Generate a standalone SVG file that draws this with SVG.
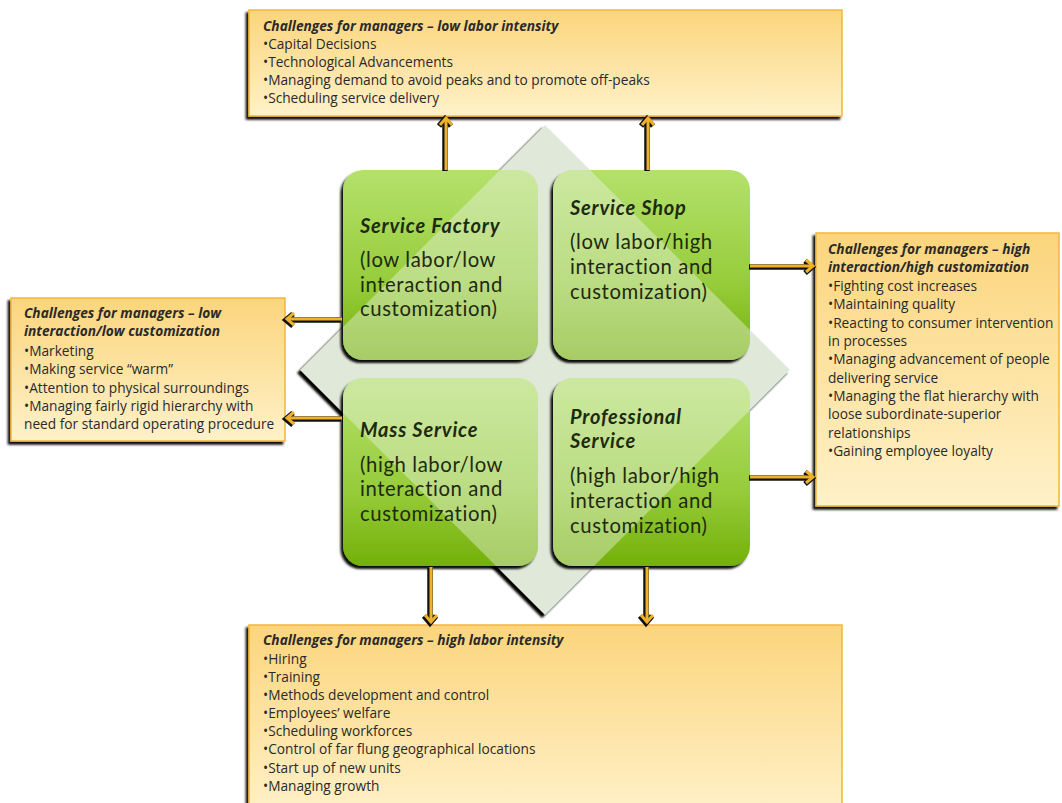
<svg xmlns="http://www.w3.org/2000/svg" width="1062" height="803" viewBox="0 0 1062 803">
  <style>
    .note { fill: url(#noteFill); stroke: #f2b63c; stroke-width: 1.5; filter: url(#dropShadow); }
    .note-text { font-family: "Open Sans", "Liberation Sans", sans-serif; font-size: 13.7px; fill: #2a2a2a; }
    .note-title { font-weight: bold; font-style: italic; }
    .quad { fill: url(#greenFill); filter: url(#dropShadow); }
    .quad-title { font-family: Lato, "Open Sans", sans-serif; font-size: 20px; font-weight: bold; font-style: italic; letter-spacing: 0.8px; fill: #1d2a10; }
    .quad-text { font-family: Lato, "Open Sans", sans-serif; font-size: 20.3px; letter-spacing: 0.6px; fill: #1d2a10; }
    .veil { fill: #eef4e6; fill-opacity: 0.42; }
    .link-under { fill: none; stroke: #111; stroke-width: 5.5; marker-end: url(#headDark); }
    .link { fill: none; stroke: #eeb12a; stroke-width: 3; marker-end: url(#headGold); }
  </style>
  <defs>
    <linearGradient id="noteFill" x1="0" y1="0" x2="0" y2="1">
      <stop offset="0" stop-color="#fbd57c"/>
      <stop offset="1" stop-color="#fff1c9"/>
    </linearGradient>
    <linearGradient id="greenFill" x1="0" y1="0" x2="0" y2="1">
      <stop offset="0" stop-color="#b4e16c"/>
      <stop offset="0.6" stop-color="#96cc3a"/>
      <stop offset="1" stop-color="#74b00a"/>
    </linearGradient>
    <filter id="dropShadow" x="-10%" y="-10%" width="120%" height="120%">
      <feDropShadow dx="-2.5" dy="3" stdDeviation="1" flood-color="#000" flood-opacity="0.95"/>
    </filter>
    <filter id="soft" x="-10%" y="-10%" width="120%" height="120%">
      <feGaussianBlur stdDeviation="1"/>
    </filter>
    <polygon id="diamondShape" points="545,125 790,370 545,615 300,370"/>
    <clipPath id="clipFactory"><rect x="343" y="170" width="195" height="190" rx="20"/></clipPath>
    <clipPath id="clipShop"><rect x="553" y="170" width="197" height="190" rx="20"/></clipPath>
    <clipPath id="clipMass"><rect x="343" y="378" width="195" height="188" rx="20"/></clipPath>
    <clipPath id="clipPro"><rect x="553" y="378" width="197" height="188" rx="20"/></clipPath>
    <marker id="headGold" markerUnits="userSpaceOnUse" markerWidth="20" markerHeight="20" viewBox="-10 -10 20 20" refX="0" refY="0" orient="auto">
      <path d="M-7,-6 L0,0 L-7,6" fill="none" stroke="#eeb12a" stroke-width="3" stroke-linejoin="miter"/>
    </marker>
    <marker id="headDark" markerUnits="userSpaceOnUse" markerWidth="20" markerHeight="20" viewBox="-10 -10 20 20" refX="0" refY="0" orient="auto">
      <path d="M-7,-6 L0,0 L-7,6" fill="none" stroke="#111" stroke-width="5.5" stroke-linejoin="miter"/>
    </marker>
  </defs>

  <rect width="1062" height="803" fill="#ffffff"/>

  <!-- central diamond behind the quadrants, with its dark edge -->
  <g id="diamond">
    <polygon points="542,128 787,373 542,618 297,373" fill="#000" filter="url(#soft)"/>
    <use href="#diamondShape" fill="#e0e9d9"/>
  </g>

  <!-- four service quadrants; the diamond shows through each as a light veil -->
  <g id="service-factory">
    <rect class="quad" x="343" y="170" width="195" height="190" rx="20"/>
    <use href="#diamondShape" class="veil" clip-path="url(#clipFactory)"/>
    <text class="quad-title" x="360" y="233">Service Factory</text>
    <text class="quad-text" x="360" y="267">(low labor/low</text>
    <text class="quad-text" x="360" y="292">interaction and</text>
    <text class="quad-text" x="360" y="316">customization)</text>
  </g>
  <g id="service-shop">
    <rect class="quad" x="553" y="170" width="197" height="190" rx="20"/>
    <use href="#diamondShape" class="veil" clip-path="url(#clipShop)"/>
    <text class="quad-title" x="570" y="215">Service Shop</text>
    <text class="quad-text" x="570" y="249">(low labor/high</text>
    <text class="quad-text" x="570" y="274">interaction and</text>
    <text class="quad-text" x="570" y="299">customization)</text>
  </g>
  <g id="mass-service">
    <rect class="quad" x="343" y="378" width="195" height="188" rx="20"/>
    <use href="#diamondShape" class="veil" clip-path="url(#clipMass)"/>
    <text class="quad-title" x="360" y="437">Mass Service</text>
    <text class="quad-text" x="360" y="472">(high labor/low</text>
    <text class="quad-text" x="360" y="496">interaction and</text>
    <text class="quad-text" x="360" y="521">customization)</text>
  </g>
  <g id="professional-service">
    <rect class="quad" x="553" y="378" width="197" height="188" rx="20"/>
    <use href="#diamondShape" class="veil" clip-path="url(#clipPro)"/>
    <text class="quad-title" x="570" y="424">Professional</text>
    <text class="quad-title" x="570" y="448">Service</text>
    <text class="quad-text" x="570" y="483">(high labor/high</text>
    <text class="quad-text" x="570" y="508">interaction and</text>
    <text class="quad-text" x="570" y="533">customization)</text>
  </g>

  <!-- challenge notes -->
  <g id="low-labor">
    <rect class="note" x="249" y="10" width="593" height="106"/>
    <text class="note-text">
      <tspan class="note-title" x="263" y="31">Challenges for managers – low labor intensity</tspan>
      <tspan x="263" y="49">•Capital Decisions</tspan>
      <tspan x="263" y="67">•Technological Advancements</tspan>
      <tspan x="263" y="85">•Managing demand to avoid peaks and to promote off-peaks</tspan>
      <tspan x="263" y="103">•Scheduling service delivery</tspan>
    </text>
  </g>
  <g id="low-interaction">
    <rect class="note" x="11" y="298" width="274" height="143"/>
    <text class="note-text">
      <tspan class="note-title" x="24" y="318">Challenges for managers – low</tspan>
      <tspan class="note-title" x="24" y="336">interaction/low customization</tspan>
      <tspan x="24" y="356">•Marketing</tspan>
      <tspan x="24" y="374">•Making service “warm”</tspan>
      <tspan x="24" y="393">•Attention to physical surroundings</tspan>
      <tspan x="24" y="411">•Managing fairly rigid hierarchy with</tspan>
      <tspan x="24" y="429">need for standard operating procedure</tspan>
    </text>
  </g>
  <g id="high-interaction">
    <rect class="note" x="816" y="233" width="243" height="273"/>
    <text class="note-text">
      <tspan class="note-title" x="828" y="254">Challenges for managers – high</tspan>
      <tspan class="note-title" x="828" y="272">interaction/high customization</tspan>
      <tspan x="828" y="291">•Fighting cost increases</tspan>
      <tspan x="828" y="309">•Maintaining quality</tspan>
      <tspan x="828" y="328">•Reacting to consumer intervention</tspan>
      <tspan x="828" y="346">in processes</tspan>
      <tspan x="828" y="364">•Managing advancement of people</tspan>
      <tspan x="828" y="383">delivering service</tspan>
      <tspan x="828" y="401">•Managing the flat hierarchy with</tspan>
      <tspan x="828" y="419">loose subordinate-superior</tspan>
      <tspan x="828" y="438">relationships</tspan>
      <tspan x="828" y="456">•Gaining employee loyalty</tspan>
    </text>
  </g>
  <g id="high-labor">
    <rect class="note" x="249" y="625" width="593" height="190"/>
    <text class="note-text">
      <tspan class="note-title" x="263" y="645">Challenges for managers – high labor intensity</tspan>
      <tspan x="263" y="664">•Hiring</tspan>
      <tspan x="263" y="682">•Training</tspan>
      <tspan x="263" y="700">•Methods development and control</tspan>
      <tspan x="263" y="718">•Employees’ welfare</tspan>
      <tspan x="263" y="736">•Scheduling workforces</tspan>
      <tspan x="263" y="754">•Control of far flung geographical locations</tspan>
      <tspan x="263" y="773">•Start up of new units</tspan>
      <tspan x="263" y="791">•Managing growth</tspan>
    </text>
  </g>

  <!-- connectors: dark outline pass, then gold pass -->
  <g id="connectors">
    <g transform="translate(-1,1)">
      <path class="link-under" d="M446,170 L446,118"/>
      <path class="link-under" d="M648,170 L648,118"/>
      <path class="link-under" d="M342,319 L287,319"/>
      <path class="link-under" d="M342,418 L287,418"/>
      <path class="link-under" d="M750,266 L813,266"/>
      <path class="link-under" d="M750,477 L813,477"/>
      <path class="link-under" d="M431,567 L431,622"/>
      <path class="link-under" d="M647,567 L647,622"/>
    </g>
    <path class="link" d="M446,170 L446,118"/>
    <path class="link" d="M648,170 L648,118"/>
    <path class="link" d="M342,319 L287,319"/>
    <path class="link" d="M342,418 L287,418"/>
    <path class="link" d="M750,266 L813,266"/>
    <path class="link" d="M750,477 L813,477"/>
    <path class="link" d="M431,567 L431,622"/>
    <path class="link" d="M647,567 L647,622"/>
  </g>
</svg>
